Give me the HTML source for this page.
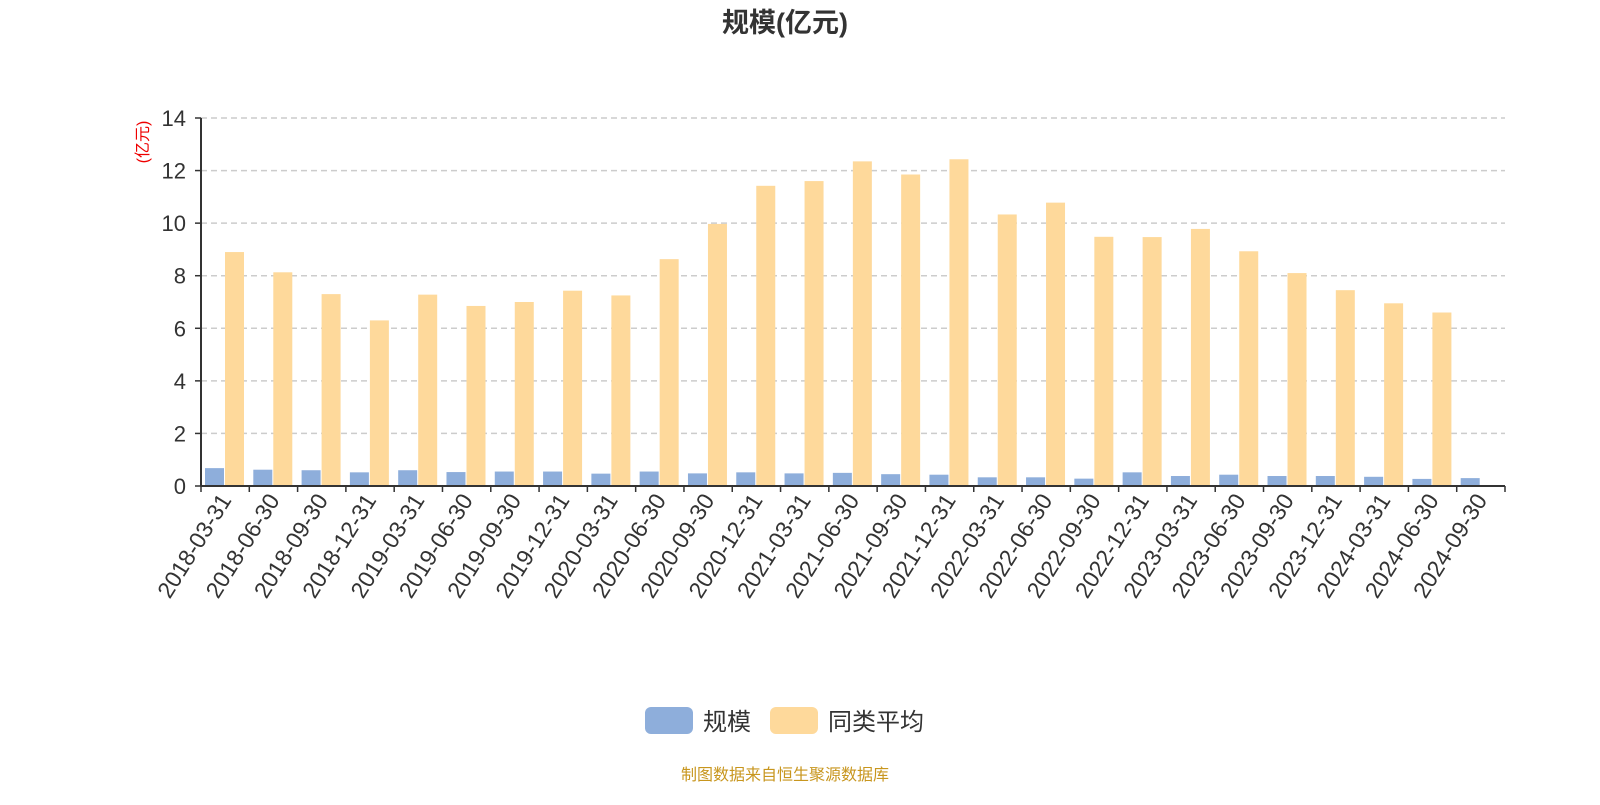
<!DOCTYPE html>
<html><head><meta charset="utf-8"><style>
body{margin:0;background:#fff;}
svg text{font-family:"Liberation Sans","Noto Sans CJK SC",sans-serif;}
</style></head><body>
<svg id="c" width="1600" height="800" xmlns="http://www.w3.org/2000/svg">
<text x="785" y="32" text-anchor="middle" font-size="27" font-weight="bold" fill="#333">规模(亿元)</text>
<text transform="translate(148,142) rotate(-90)" text-anchor="middle" font-size="16" fill="#e00">(亿元)</text>
<g id="grid"></g><g id="bars"></g><g id="axes"></g>
<g>
<rect x="645" y="707" width="48" height="27" rx="6" fill="#8eaedb"/>
<text x="703" y="730" font-size="24" fill="#333">规模</text>
<rect x="770" y="707" width="48" height="27" rx="6" fill="#fed99b"/>
<text x="828" y="730" font-size="24" fill="#333">同类平均</text>
</g>
<text x="785" y="780" text-anchor="middle" font-size="16" fill="#c8961e">制图数据来自恒生聚源数据库</text>
</svg>
<script>
const categories=["2018-03-31","2018-06-30","2018-09-30","2018-12-31","2019-03-31","2019-06-30","2019-09-30","2019-12-31","2020-03-31","2020-06-30","2020-09-30","2020-12-31","2021-03-31","2021-06-30","2021-09-30","2021-12-31","2022-03-31","2022-06-30","2022-09-30","2022-12-31","2023-03-31","2023-06-30","2023-09-30","2023-12-31","2024-03-31","2024-06-30","2024-09-30"];
const scaleValues=[0.68,0.62,0.6,0.52,0.6,0.53,0.55,0.55,0.47,0.55,0.48,0.52,0.48,0.5,0.45,0.43,0.33,0.33,0.28,0.52,0.38,0.43,0.38,0.38,0.35,0.27,0.3];
const avgValues=[8.9,8.13,7.3,6.3,7.28,6.85,7.0,7.43,7.25,8.63,9.97,11.42,11.6,12.35,11.85,12.43,10.33,10.78,9.48,9.47,9.78,8.93,8.1,7.45,6.95,6.6,null];
const yTicks=[0,2,4,6,8,10,12,14];
const NS="http://www.w3.org/2000/svg";
const X0=201,X1=1505,Y0=486,Y1=118,YMAX=14;
const band=(X1-X0)/categories.length;
const y=v=>Y0-(v/YMAX)*(Y0-Y1);
const xb=i=>X0+i*band;
function mk(t,a,p){const e=document.createElementNS(NS,t);for(const k in a)e.setAttribute(k,a[k]);p.appendChild(e);return e;}
const grid=document.getElementById('grid'),bars=document.getElementById('bars'),axes=document.getElementById('axes');
yTicks.forEach(v=>{
 if(v>0){const l=mk('line',{x1:X0,x2:X1,y1:y(v),y2:y(v),stroke:'#ccc','stroke-dasharray':'6,4','stroke-width':1.5},grid);
 
 }
 const t=mk('text',{x:186,y:y(v)+8,'text-anchor':'end','font-size':22,fill:'#333'},axes);t.textContent=v;
 
 
 mk('line',{x1:195,x2:X0,y1:y(v),y2:y(v),stroke:'#333','stroke-width':1.5},axes);
});
categories.forEach((c,i)=>{
 const bw=19;
 const b=mk('rect',{x:xb(i)+4,y:y(scaleValues[i]),width:bw,height:Y0-y(scaleValues[i]),fill:'#8eaedb'},bars);
 
 
 if(avgValues[i]!=null){const o=mk('rect',{x:xb(i)+24,y:y(avgValues[i]),width:bw,height:Y0-y(avgValues[i]),fill:'#fed99b'},bars);
 
 }
 mk('line',{x1:xb(i),x2:xb(i),y1:Y0,y2:Y0+6,stroke:'#333','stroke-width':1.5},axes);
 const cx=xb(i)+band/2;
 const t=mk('text',{transform:`translate(${cx+7},${Y0+14}) rotate(-58)`,'text-anchor':'end','font-size':23,fill:'#333'},axes);t.textContent=c;
 
 
});
mk('line',{x1:X1,x2:X1,y1:Y0,y2:Y0+6,stroke:'#333','stroke-width':1.5},axes);
const ya=mk('line',{x1:X0,x2:X0,y1:Y1,y2:Y0,stroke:'#333','stroke-width':2},axes);


const xa=mk('line',{x1:X0,x2:X1,y1:Y0,y2:Y0,stroke:'#333','stroke-width':2},axes);


</script>
</body></html>
